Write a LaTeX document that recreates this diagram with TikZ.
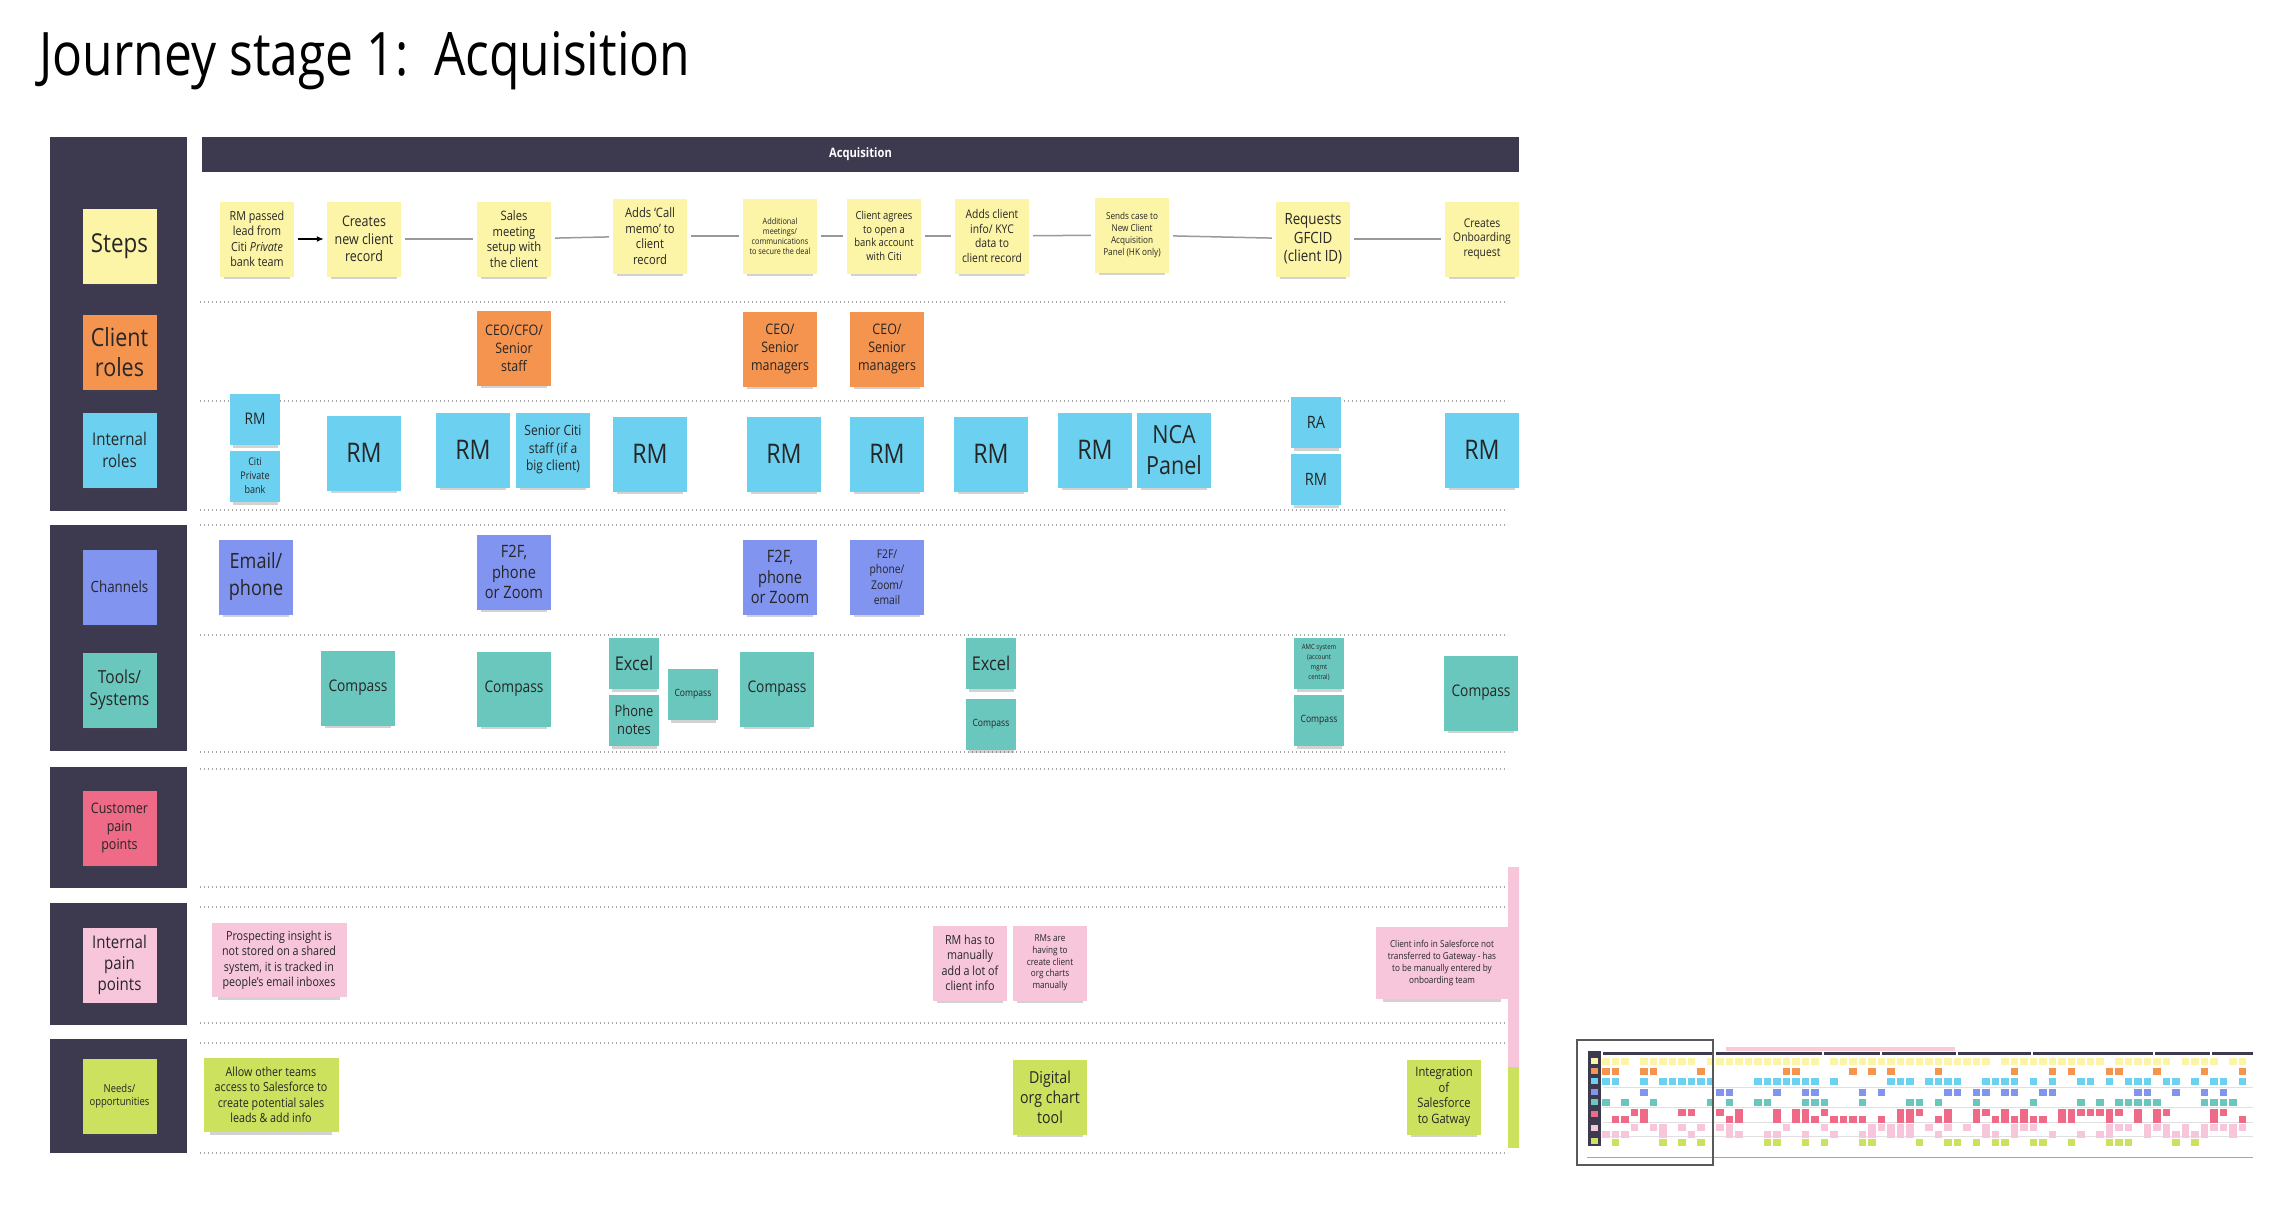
\documentclass[tikz,border=0pt]{standalone}
\usepackage{fontspec}
\setmainfont{Open Sans}[FakeStretch = 0.86]
\newfontfamily\titlefont{Open Sans}[FakeStretch = 0.83]
\usetikzlibrary{shadows, arrows.meta}

\definecolor{panel}{HTML}{3D3A4F}
\definecolor{stepyel}{HTML}{FCF4A6}
\definecolor{roleorg}{HTML}{F5944F}
\definecolor{staffblue}{HTML}{6CD0F0}
\definecolor{chanblue}{HTML}{8194F0}
\definecolor{toolteal}{HTML}{6AC7BD}
\definecolor{custred}{HTML}{EE6A86}
\definecolor{painpink}{HTML}{F7C6DB}
\definecolor{needlime}{HTML}{CCE15E}

\begin{document}
\begin{tikzpicture}[
        x = 1pt, y = -1pt,
        fs/.style 2 args = {font = \fontsize{#1}{#2}\selectfont},
        sticky/.style = {inner sep = 1pt, align = center, text = black!85, minimum width = 74pt, minimum height = 75pt,
            drop shadow = {shadow xshift = 0pt, shadow yshift = -7pt, shadow scale = 0.9, opacity = 0.25, fill = black!70}},
        halfnote/.style = {minimum width = 50pt, minimum height = 51pt},
        widenote/.style = {minimum width = 135pt, minimum height = 74pt},
        stepnote/.style = {sticky, fill = stepyel},
        rolenote/.style = {sticky, fill = roleorg},
        staffnote/.style = {sticky, fill = staffblue},
        channote/.style = {sticky, fill = chanblue},
        toolnote/.style = {sticky, fill = toolteal},
        custnote/.style = {sticky, fill = custred},
        painnote/.style = {sticky, fill = painpink},
        neednote/.style = {sticky, fill = needlime},
        rowsep/.style = {draw = black!35, line width = 1.3pt, dash pattern = on 1.3pt off 2.7pt},
        link/.style = {draw = black!40, line width = 1.5pt, shorten < = 4pt, shorten > = 4pt}
    ]
    \useasboundingbox (0, 0) rectangle (2294, 1210);

    \node (title) [anchor = base west, font = \titlefont\fontsize{60}{70}\selectfont] at (36, 75) {Journey stage 1:\ \ Acquisition};

    % side panels and lanes
    \foreach \top/\bot in {137/511, 525/751, 767/888, 903/1025, 1039/1153}
        \fill [panel] (50, \top) rectangle (187, \bot);
    \foreach \ly in {302, 401, 510, 525, 635, 752, 769, 887, 907, 1023, 1043, 1153}
        \draw [rowsep] (200, \ly) -- (1508, \ly);

    \node (head) [fill = panel, minimum width = 1317pt, minimum height = 35pt, text = white, font = \bfseries\fontsize{13}{15}\selectfont] at (860.5, 154.5) {Acquisition};

    \path
        (119.5, 246) node (lsteps) [stepnote, fs = {26}{30}] {Steps}
        (119.5, 352) node (lclient) [rolenote, fs = {25}{30}] {Client\\roles}
        (119.5, 450) node (lstaff) [staffnote, fs = {17.5}{22}] {Internal\\roles}
        (119.5, 587) node (lchan) [channote, fs = {15.5}{18}] {Channels}
        (119.5, 690) node (ltools) [toolnote, fs = {18}{22}] {Tools/\\Systems}
        (119.5, 828) node (lcust) [custnote, fs = {14.5}{18}] {Customer\\pain\\points}
        (119.5, 965) node (lpain) [painnote, fs = {17.5}{21}] {Internal\\pain\\points}
        (119.5, 1096) node (lneeds) [neednote, fs = {11}{13.5}] {Needs/\\opportunities}

        (257, 239) node (s1) [stepnote, fs = {12.5}{15.5}] {RM passed\\lead from\\Citi \textit{Private}\\bank team}
        (364, 239) node (s2) [stepnote, fs = {14.5}{17.5}] {Creates\\new client\\record}
        (514, 239) node (s3) [stepnote, fs = {13}{15.5}] {Sales\\meeting\\setup with\\the client}
        (650, 236) node (s4) [stepnote, fs = {13}{15.5}] {Adds `Call\\memo' to\\client\\record}
        (780, 236) node (s5) [stepnote, fs = {8.5}{10}] {Additional\\meetings/\\communications\\to secure the deal}
        (884, 236) node (s6) [stepnote, fs = {11}{13.5}] {Client agrees\\to open a\\bank account\\with Citi}
        (992, 236) node (s7) [stepnote, fs = {12}{14.5}] {Adds client\\info/ KYC\\data to\\client record}
        (1132, 235) node (s8) [stepnote, fs = {9.5}{12}] {Sends case to\\New Client\\Acquisition\\Panel (HK only)}
        (1313, 239) node (s9) [stepnote, fs = {15.5}{18.5}] {Requests\\GFCID\\(client ID)}
        (1482, 239) node (s10) [stepnote, fs = {12}{14.5}] {Creates\\Onboarding\\request}

        (514, 348) node (c1) [rolenote, fs = {14.5}{18}] {CEO/CFO/\\Senior\\staff}
        (780, 349) node (c2) [rolenote, fs = {14.5}{18}] {CEO/\\Senior\\managers}
        (887, 349) node (c3) [rolenote, fs = {14.5}{18}] {CEO/\\Senior\\managers}

        (255, 419) node (r1) [staffnote, halfnote, fs = {16}{19}] {RM}
        (255, 476) node (r2) [staffnote, halfnote, fs = {10.5}{14}] {Citi\\Private\\bank}
        (364, 453) node (r3) [staffnote, fs = {27}{32}] {RM}
        (473, 450) node (r4) [staffnote, fs = {27}{32}] {RM}
        (553, 450) node (r5) [staffnote, fs = {14}{17.5}] {Senior Citi\\staff (if a\\big client)}
        (650, 454) node (r6) [staffnote, fs = {27}{32}] {RM}
        (784, 454) node (r7) [staffnote, fs = {27}{32}] {RM}
        (887, 454) node (r8) [staffnote, fs = {27}{32}] {RM}
        (991, 454) node (r9) [staffnote, fs = {27}{32}] {RM}
        (1095, 450) node (r10) [staffnote, fs = {27}{32}] {RM}
        (1174, 450) node (r11) [staffnote, fs = {25}{31}] {NCA\\Panel}
        (1316, 422) node (r12) [staffnote, halfnote, fs = {17}{20}] {RA}
        (1316, 479) node (r13) [staffnote, halfnote, fs = {17}{20}] {RM}
        (1482, 450) node (r14) [staffnote, fs = {27}{32}] {RM}

        (256, 577) node (h1) [channote, fs = {21}{27}] {Email/\\phone}
        (514, 572) node (h2) [channote, fs = {17}{20.5}] {F2F,\\phone\\or Zoom}
        (780, 577) node (h3) [channote, fs = {17}{20.5}] {F2F,\\phone\\or Zoom}
        (887, 577) node (h4) [channote, fs = {12}{15.5}] {F2F/\\phone/\\Zoom/\\email}

        (358, 688) node (t1) [toolnote, fs = {16}{20}] {Compass}
        (514, 689) node (t2) [toolnote, fs = {16}{20}] {Compass}
        (634, 663) node (t3) [toolnote, halfnote, fs = {19}{22}] {Excel}
        (634, 720) node (t4) [toolnote, halfnote, fs = {15}{18.5}] {Phone\\notes}
        (693, 694) node (t5) [toolnote, halfnote, fs = {10}{12}] {Compass}
        (777, 689) node (t6) [toolnote, fs = {16}{20}] {Compass}
        (991, 663) node (t7) [toolnote, halfnote, fs = {19}{22}] {Excel}
        (991, 724) node (t8) [toolnote, halfnote, fs = {10}{12}] {Compass}
        (1319, 663) node (t9) [toolnote, halfnote, fs = {7}{10}] {AMC system\\(account\\mgmt\\central)}
        (1319, 720) node (t10) [toolnote, halfnote, fs = {10}{12}] {Compass}
        (1481, 693) node (t11) [toolnote, fs = {16}{20}] {Compass}

        (279, 960) node (p1) [painnote, widenote, fs = {12.5}{15.5}] {Prospecting insight is\\not stored on a shared\\system, it is tracked in\\people's email inboxes}
        (970, 963) node (p2) [painnote, fs = {12.5}{15.5}] {RM has to\\manually\\add a lot of\\client info}
        (1050, 963) node (p3) [painnote, fs = {9.5}{11.7}] {RMs are\\having to\\create client\\org charts\\manually}
        (1442, 963) node (p4) [painnote, minimum width = 132pt, minimum height = 72pt, fs = {9.5}{12}] {Client info in Salesforce not\\transferred to Gateway - has\\to be manually entered by\\onboarding team}

        (271, 1095) node (n1) [neednote, widenote, fs = {12.5}{15.5}] {Allow other teams\\access to Salesforce to\\create potential sales\\leads \& add info}
        (1050, 1097) node (n2) [neednote, fs = {16.5}{20}] {Digital\\org chart\\tool}
        (1444, 1097) node (n3) [neednote, fs = {13}{15.5}] {Integration\\of\\Salesforce\\to Gatway}
    ;

    \draw
        (s1) edge [-{Latex[length = 7pt, width = 6pt]}, line width = 1.3pt, shorten < = 4pt, shorten > = 3pt] (s2)
        (s2) edge [link] (s3)
        (s3) edge [link] (s4)
        (s4) edge [link] (s5)
        (s5) edge [link] (s6)
        (s6) edge [link] (s7)
        (s7) edge [link] (s8)
        (s8) edge [link] (s9)
        (s9) edge [link] (s10)
    ;

    % notes cut off by the board edge
    \begin{scope}
        \clip (0, 0) rectangle (1519, 1210);
        \fill [painpink] (1508, 867) rectangle (1530, 1067);
        \fill [needlime] (1508, 1067) rectangle (1530, 1148);
    \end{scope}

    % overview map
    \fill [panel] (1588, 1051) rectangle (1601, 1146);
    \foreach \ry/\rc in {1061/stepyel, 1071/roleorg, 1081/staffblue, 1092/chanblue, 1102/toolteal, 1114/custred, 1128/painpink, 1141/needlime}
        \fill [\rc] (1591, \ry - 3) rectangle (1598, \ry + 3);
    \fill [custred!35] (1726, 1047) rectangle (1955, 1051);
    \fill [panel] (1603, 1052) rectangle (2253, 1055);
    \foreach \gx in {1714, 1822, 1880, 1956, 2031, 2153, 2210}
        \fill [white] (\gx, 1051) rectangle (\gx + 1.5, 1056);
    \foreach \ly in {1087, 1107, 1122, 1136}
        \draw [black!12, line width = 0.6pt] (1603, \ly) -- (2253, \ly);
    \draw [black!35, line width = 1pt] (1587, 1157) -- (2253, 1157);
    \pgfmathsetseed{42}
    \foreach \ry/\rc/\rp in {1061/stepyel/0.85, 1071/roleorg/0.3, 1081/staffblue/0.6, 1092/chanblue/0.3, 1102/toolteal/0.4, 1112/custred/0.45, 1119/custred/0.35, 1127/painpink/0.55, 1134/painpink/0.4, 1142/needlime/0.35}
        \foreach \rx in {1606, 1615.5, ..., 2246} {
            \pgfmathsetmacro \hit {rnd < \rp ? 1 : 0}
            \ifdim \hit pt > 0.5pt
                \fill [\rc] (\rx - 3.6, \ry - 3.5) rectangle (\rx + 3.6, \ry + 3.5);
            \fi
        }
    \draw [black!65, line width = 2.5pt] (1577, 1040) rectangle (1713, 1165);
\end{tikzpicture}
\end{document}
